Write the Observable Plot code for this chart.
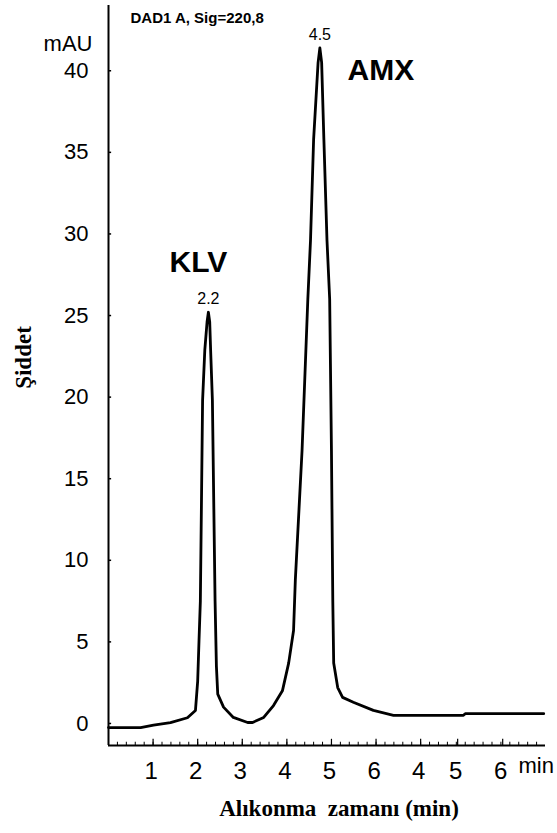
<!DOCTYPE html>
<html>
<head>
<meta charset="utf-8">
<script src="https://cdn.jsdelivr.net/npm/d3@7"></script>
<script src="https://cdn.jsdelivr.net/npm/@observablehq/plot@0.6"></script>
<style>
  html, body { margin: 0; padding: 0; background: #fff; }
</style>
</head>
<body>
<div id="chart"></div>
<script>
// Chromatogram trace (retention time axis units, mAU)
const time = [0.00, 0.72, 1.01, 1.39, 1.77, 1.95, 2.00, 2.03, 2.06, 2.11, 2.16, 2.21, 2.24, 2.27, 2.29, 2.33, 2.39, 2.42, 2.45, 2.58, 2.80, 3.12, 3.23, 3.48, 3.70, 3.90, 4.04, 4.15, 4.19, 4.34, 4.47, 4.53, 4.60, 4.70, 4.74, 4.78, 4.83, 4.90, 4.96, 5.00, 5.03, 5.05, 5.14, 5.25, 5.49, 5.94, 6.39, 6.62, 7.96, 8.00, 9.76];
const signal = [-0.25, -0.25, -0.1, 0.05, 0.35, 0.8, 2.6, 5.1, 7.5, 19.8, 22.9, 24.6, 25.2, 24.6, 22.9, 19.8, 7.5, 3.5, 1.8, 1.0, 0.37, 0.06, 0.06, 0.37, 1.1, 2.0, 3.7, 5.7, 8.8, 16.7, 26.0, 29.6, 35.8, 40.5, 41.4, 40.5, 35.8, 29.6, 26.0, 16.7, 7.5, 3.7, 2.2, 1.6, 1.3, 0.8, 0.5, 0.5, 0.5, 0.6, 0.6];

// Peaks
const peakNames = ["KLV", "AMX"];
const peakTimes = [2.24, 4.74];
const peakHeights = [25.2, 41.4];
const peakLabels = ["2.2", "4.5"];

// Axes
const yTicks = [0, 5, 10, 15, 20, 25, 30, 35, 40];
const xTickPos = [1, 2, 3, 4, 5, 6, 7, 7.83, 8.84];
const xTickLabels = ["1", "2", "3", "4", "5", "6", "4", "5", "6"];
const minorTicks = d3.range(0.2, 9.7, 0.2);

const header = "DAD1 A, Sig=220,8";
const yUnit = "mAU";
const xUnit = "min";
const yTitle = "Şiddet";
const xTitle = "Alıkonma  zamanı (min)";

const trace = time.map((t, i) => ({t, v: signal[i]}));
const peaks = peakNames.map((n, i) => ({name: n, t: peakTimes[i], v: peakHeights[i], label: peakLabels[i]}));

const Y0 = -1.35, Y1 = 44;
const sans = "Liberation Sans, Arial, sans-serif";
const serif = "Liberation Serif, Times New Roman, serif";

const chart = Plot.plot({
  width: 557,
  height: 833,
  marginTop: 5,
  marginBottom: 88,
  marginLeft: 108,
  marginRight: 12,
  style: {fontFamily: sans, background: "#fff", color: "#000"},
  x: {domain: [0, 9.8]},
  y: {domain: [Y0, Y1]},
  marks: [
    // axis lines
    Plot.ruleX([0], {stroke: "#000", strokeWidth: 2}),
    Plot.ruleY([Y0], {stroke: "#000", strokeWidth: 2}),
    // y tick marks (inside)
    Plot.ruleY(yTicks, {x1: 0, x2: 0.07, stroke: "#000", strokeWidth: 1.5}),
    // x minor & major ticks (inside, upward)
    Plot.ruleX(minorTicks, {y1: Y0, y2: Y0 + 0.2, stroke: "#000", strokeWidth: 1}),
    Plot.ruleX(xTickPos, {y1: Y0, y2: Y0 + 0.38, stroke: "#000", strokeWidth: 1.2}),
    Plot.axisY({ticks: yTicks, tickSize: 0, tickPadding: 20, fontSize: 22, label: null, anchor: "left"}),
    Plot.axisX({ticks: xTickPos, tickSize: 0, tickPadding: 16, fontSize: 24, label: null, dx: -2,
      tickFormat: d => xTickLabels[xTickPos.indexOf(d)]}),
    // trace
    Plot.line(trace, {x: "t", y: "v", stroke: "#000", strokeWidth: 2.8, strokeLinejoin: "round", curve: "linear"}),
    // peak retention labels
    Plot.text(peaks, {x: "t", y: "v", text: "label", dy: -13, fontSize: 16, fill: "#000"}),
    // compound names
    Plot.text(peaks.slice(0, 1), {x: "t", y: "v", text: "name", dx: -10, dy: -50, fontSize: 30, fontWeight: "bold", fill: "#000"}),
    Plot.text(peaks.slice(1), {x: "t", y: "v", text: "name", dx: 61, dy: 22, fontSize: 30, fontWeight: "bold", fill: "#000"}),
    // header & units
    Plot.text([header], {frameAnchor: "top-left", textAnchor: "start", dx: 22, dy: 7, fontSize: 15, fontWeight: "bold", fill: "#000"}),
    Plot.text([yUnit], {frameAnchor: "top-left", textAnchor: "end", dx: -16, dy: 30, fontSize: 22, fill: "#000"}),
    Plot.text([xUnit], {frameAnchor: "bottom-right", textAnchor: "start", dx: -27, dy: 27, fontSize: 22, fill: "#000"}),
    // titles
    Plot.text([yTitle], {frameAnchor: "left", rotate: -90, textAnchor: "middle", dx: -85, dy: -18, fontSize: 23, fontWeight: "bold", fontFamily: serif, fill: "#000"}),
    Plot.text([xTitle], {frameAnchor: "bottom", textAnchor: "middle", dx: 12, dy: 70, fontSize: 23, fontWeight: "bold", fontFamily: serif, fill: "#000"})
  ]
});
document.getElementById("chart").appendChild(chart);
</script>
</body>
</html>
